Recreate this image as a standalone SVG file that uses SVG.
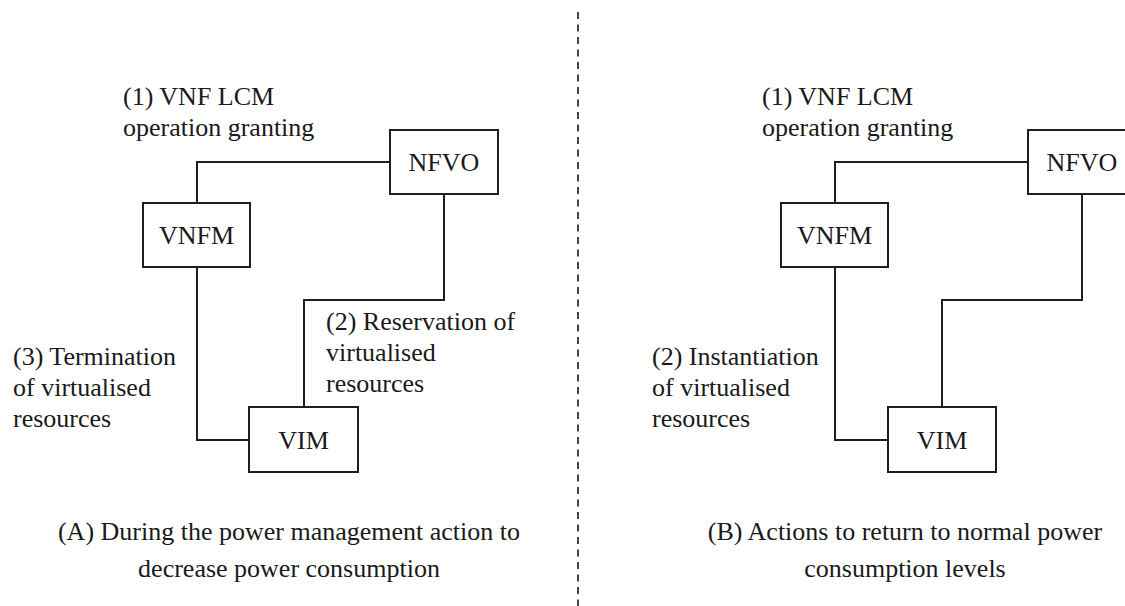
<svg xmlns="http://www.w3.org/2000/svg" width="1125" height="606" viewBox="0 0 1125 606">
  <style>
    .box { fill: #ffffff; stroke: #1e1e1e; stroke-width: 2; }
    .wire { fill: none; stroke: #1e1e1e; stroke-width: 2; }
    .name { font-family: "Liberation Serif", "Times New Roman", serif; font-size: 26px; fill: #1a1a1a; text-anchor: middle; dominant-baseline: central; }
    .note { font-family: "Liberation Serif", "Times New Roman", serif; font-size: 26px; fill: #1a1a1a; }
    .caption { font-family: "Liberation Serif", "Times New Roman", serif; font-size: 26px; fill: #1a1a1a; text-anchor: middle; }
    .divider { stroke: #444444; stroke-width: 2; stroke-dasharray: 7 5.5; }
  </style>
  <rect width="1125" height="606" fill="#ffffff"/>

  <!-- panel separator -->
  <line class="divider" x1="578" y1="12" x2="578" y2="606"/>

  <!-- panel A connectors -->
  <g id="connectors-a">
    <path class="wire" d="M197 203 V162 H390"/>
    <path class="wire" d="M444 194 V300 H304 V407"/>
    <path class="wire" d="M197 267 V440 H249"/>
  </g>
  <!-- panel B connectors -->
  <g id="connectors-b">
    <path class="wire" d="M835 203 V162 H1028"/>
    <path class="wire" d="M1082 194 V300 H942 V407"/>
    <path class="wire" d="M835 267 V440 H888"/>
  </g>

  <!-- panel A nodes -->
  <g id="nfvo-a">
    <rect class="box" x="390" y="130" width="108" height="64"/>
    <text class="name" x="444" y="162">NFVO</text>
  </g>
  <g id="vnfm-a">
    <rect class="box" x="143" y="203" width="107" height="64"/>
    <text class="name" x="196.5" y="235">VNFM</text>
  </g>
  <g id="vim-a">
    <rect class="box" x="249" y="407" width="109" height="65"/>
    <text class="name" x="303.5" y="440">VIM</text>
  </g>

  <!-- panel B nodes -->
  <g id="nfvo-b">
    <rect class="box" x="1028" y="130" width="108" height="64"/>
    <text class="name" x="1082" y="162">NFVO</text>
  </g>
  <g id="vnfm-b">
    <rect class="box" x="781" y="203" width="107" height="64"/>
    <text class="name" x="834.5" y="235">VNFM</text>
  </g>
  <g id="vim-b">
    <rect class="box" x="888" y="407" width="108" height="65"/>
    <text class="name" x="942" y="440">VIM</text>
  </g>

  <!-- panel A labels -->
  <g id="labels-a">
    <text class="note" x="123" y="105">(1) VNF LCM</text>
    <text class="note" x="123" y="136">operation granting</text>
    <text class="note" x="326" y="330">(2) Reservation of</text>
    <text class="note" x="326" y="361">virtualised</text>
    <text class="note" x="326" y="392">resources</text>
    <text class="note" x="13" y="365">(3) Termination</text>
    <text class="note" x="13" y="396">of virtualised</text>
    <text class="note" x="13" y="427">resources</text>
    <text class="caption" x="289" y="540">(A) During the power management action to</text>
    <text class="caption" x="289" y="577">decrease power consumption</text>
  </g>

  <!-- panel B labels -->
  <g id="labels-b">
    <text class="note" x="762" y="105">(1) VNF LCM</text>
    <text class="note" x="762" y="136">operation granting</text>
    <text class="note" x="652" y="365">(2) Instantiation</text>
    <text class="note" x="652" y="396">of virtualised</text>
    <text class="note" x="652" y="427">resources</text>
    <text class="caption" x="905" y="540">(B) Actions to return to normal power</text>
    <text class="caption" x="905" y="577">consumption levels</text>
  </g>
</svg>
